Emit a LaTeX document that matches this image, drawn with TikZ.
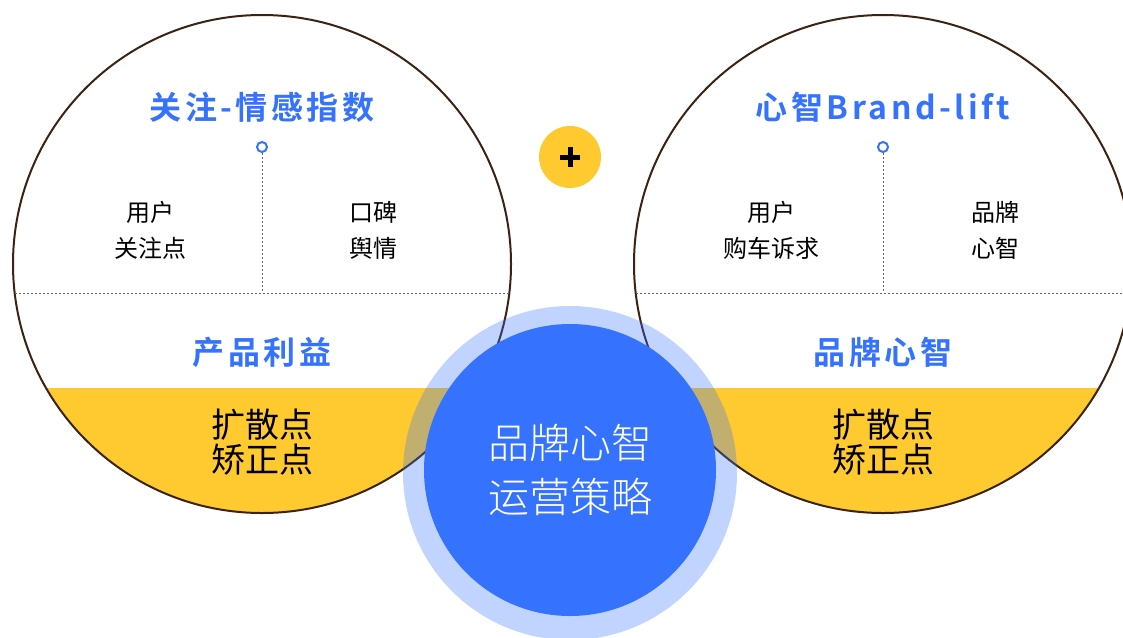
\documentclass[tikz,border=0pt]{standalone}
\usepackage{fontspec}
\setmainfont{Noto Sans CJK SC}
\newfontfamily\cjkb[LetterSpace=11]{Noto Sans CJK SC Bold}
\newfontfamily\cjkl{Noto Sans CJK SC Light}
\definecolor{ring}{HTML}{3B2314}
\definecolor{bblue}{HTML}{3573FE}
\definecolor{byellow}{HTML}{FFCA30}
\definecolor{dotgray}{HTML}{666666}
\tikzset{
  bigcircle/.style={draw=ring, line width=2pt},
  dotline/.style={draw=dotgray, line width=0.9pt, dash pattern=on 2pt off 2pt},
  marker/.style={circle, draw=bblue, fill=white, line width=2pt, minimum size=10pt, inner sep=0pt},
  title/.style={text=bblue, font=\cjkb\fontsize{32}{36}\selectfont},
  label/.style={text=black, font=\fontsize{24}{36}\selectfont, align=center},
  big/.style={text=black, font=\fontsize{34}{35}\selectfont, align=center},
}
\begin{document}
\begin{tikzpicture}[x=1pt,y=-1pt]
\useasboundingbox (0,0) rectangle (1123,637);
\clip (0,0) rectangle (1123,637);
% left circle
\begin{scope}
  \clip (262,264) circle (249);
  \fill[byellow] (0,388) rectangle (530,520);
\end{scope}
\draw[bigcircle] (262,264) circle (249);
% right circle
\begin{scope}
  \clip (883,264) circle (249);
  \fill[byellow] (620,388) rectangle (1140,520);
\end{scope}
\draw[bigcircle] (883,264) circle (249);
% dotted lines
\coordinate (lL) at (15,293);
\coordinate (lR) at (509,293);
\coordinate (lB) at (262,293);
\coordinate (rL) at (636,293);
\coordinate (rR) at (1123,293);
\coordinate (rB) at (883,293);
\node[marker] (lm) at (262,147) {};
\node[marker] (rm) at (883,147) {};
\draw[dotline] (lL) -- (lR);
\draw[dotline] (rL) -- (rR);
\draw[dotline] (lm) -- (lB);
\draw[dotline] (rm) -- (rB);
% left texts
\node[title] (lt) at (262,107) {关注-情感指数};
\node[label] (l1) at (150,230) {用户\\关注点};
\node[label] (l2) at (373,230) {口碑\\舆情};
\node[title] (lp) at (262,352) {产品利益};
\node[big] (lk) at (262,442) {扩散点\\矫正点};
% right texts
\node[title] (rt) at (883,107) {心智Brand-lift};
\node[label] (r1) at (771,230) {用户\\购车诉求};
\node[label] (r2) at (995,230) {品牌\\心智};
\node[title] (rp) at (883,352) {品牌心智};
\node[big] (rk) at (883,442) {扩散点\\矫正点};
% plus
\node[circle, fill=byellow, minimum size=62pt, inner sep=0pt] (plus) at (570,157) {};
\fill[black] (560,154.5) rectangle (580,159.5);
\fill[black] (567.5,147) rectangle (572.5,167);
% center
\fill[bblue, opacity=0.31] (570,473) circle (167);
\node[circle, fill=bblue, minimum size=292pt, inner sep=0pt, text=white, align=center,
      font=\cjkl\fontsize{41}{54}\selectfont] (c) at (570,470) {品牌心智\\运营策略};
\end{tikzpicture}
\end{document}
